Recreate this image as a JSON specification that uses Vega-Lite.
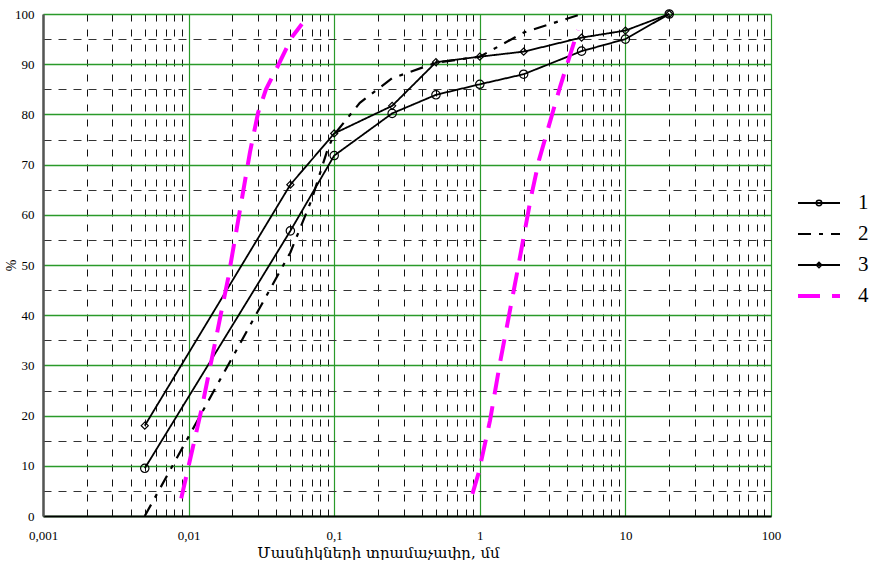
{
  "$schema": "https://vega.github.io/schema/vega-lite/v6.json",
  "padding": {"left": 4, "top": 7, "right": 0, "bottom": 0},
  "bounds": "flush",
  "spacing": 27,
  "config": {
    "view": {"stroke": null},
    "font": "Liberation Serif",
    "axis": {"labelFont": "Liberation Serif", "titleFont": "Liberation Serif", "labelColor": "#000", "titleColor": "#000", "titleFontWeight": "normal"}
  },
  "datasets": {
    "curves": [
      {"series": "1", "grp": "1", "d": 0.005, "p": 9.5},
      {"series": "1", "grp": "1", "d": 0.05, "p": 56.8},
      {"series": "1", "grp": "1", "d": 0.1, "p": 71.8},
      {"series": "1", "grp": "1", "d": 0.25, "p": 80.2},
      {"series": "1", "grp": "1", "d": 0.5, "p": 83.9},
      {"series": "1", "grp": "1", "d": 1, "p": 86},
      {"series": "1", "grp": "1", "d": 2, "p": 88},
      {"series": "1", "grp": "1", "d": 5, "p": 92.6},
      {"series": "1", "grp": "1", "d": 10, "p": 95},
      {"series": "1", "grp": "1", "d": 20, "p": 100},
      {"series": "2", "grp": "2", "d": 0.005, "p": 0},
      {"series": "2", "grp": "2", "d": 0.05, "p": 52.5},
      {"series": "2", "grp": "2", "d": 0.07, "p": 63},
      {"series": "2", "grp": "2", "d": 0.09, "p": 73},
      {"series": "2", "grp": "2", "d": 0.1, "p": 76},
      {"series": "2", "grp": "2", "d": 0.15, "p": 82.3},
      {"series": "2", "grp": "2", "d": 0.25, "p": 87.2},
      {"series": "2", "grp": "2", "d": 0.5, "p": 90.3},
      {"series": "2", "grp": "2", "d": 1, "p": 91.5},
      {"series": "2", "grp": "2", "d": 2, "p": 96.3},
      {"series": "2", "grp": "2", "d": 5, "p": 100},
      {"series": "3", "grp": "3", "d": 0.005, "p": 18},
      {"series": "3", "grp": "3", "d": 0.05, "p": 66},
      {"series": "3", "grp": "3", "d": 0.1, "p": 76.2},
      {"series": "3", "grp": "3", "d": 0.25, "p": 81.7},
      {"series": "3", "grp": "3", "d": 0.5, "p": 90.4},
      {"series": "3", "grp": "3", "d": 1, "p": 91.5},
      {"series": "3", "grp": "3", "d": 2, "p": 92.5},
      {"series": "3", "grp": "3", "d": 5, "p": 95.3},
      {"series": "3", "grp": "3", "d": 10, "p": 96.7},
      {"series": "3", "grp": "3", "d": 20, "p": 100},
      {"series": "4", "grp": "4a", "d": 0.0089, "p": 3.5},
      {"series": "4", "grp": "4a", "d": 0.0123, "p": 21.4},
      {"series": "4", "grp": "4a", "d": 0.0187, "p": 47.4},
      {"series": "4", "grp": "4a", "d": 0.0264, "p": 72.5},
      {"series": "4", "grp": "4a", "d": 0.03, "p": 80.3},
      {"series": "4", "grp": "4a", "d": 0.034, "p": 85},
      {"series": "4", "grp": "4a", "d": 0.04, "p": 89},
      {"series": "4", "grp": "4a", "d": 0.0513, "p": 95.4},
      {"series": "4", "grp": "4a", "d": 0.06, "p": 98},
      {"series": "4", "grp": "4b", "d": 0.89, "p": 4.4},
      {"series": "4", "grp": "4b", "d": 0.98, "p": 8.5},
      {"series": "4", "grp": "4b", "d": 1.175, "p": 19},
      {"series": "4", "grp": "4b", "d": 1.376, "p": 30.5},
      {"series": "4", "grp": "4b", "d": 1.81, "p": 48.7},
      {"series": "4", "grp": "4b", "d": 2.25, "p": 63.6},
      {"series": "4", "grp": "4b", "d": 2.55, "p": 70.9},
      {"series": "4", "grp": "4b", "d": 3.56, "p": 85.5},
      {"series": "4", "grp": "4b", "d": 4.72, "p": 96.8}
    ],
    "legend": [{"series": "1"}, {"series": "2"}, {"series": "3"}, {"series": "4"}]
  },
  "hconcat": [
    {
      "width": 728,
      "height": 502,
      "data": {"name": "curves"},
      "encoding": {
        "x": {
          "field": "d", "type": "quantitative",
          "scale": {"type": "log", "domain": [0.001, 100], "nice": false},
          "axis": {
            "values": [0.001,0.002,0.003,0.004,0.005,0.006,0.007,0.008,0.009,0.01,0.02,0.03,0.04,0.05,0.06,0.07,0.08,0.09,0.1,0.2,0.3,0.4,0.5,0.6,0.7,0.8,0.9,1,2,3,4,5,6,7,8,9,10,20,30,40,50,60,70,80,90,100],
            "title": "Մասնիկների տրամաչափը, մմ",
            "titleFont": "DejaVu Serif",
            "titleFontSize": 15,
            "titlePadding": 3,
            "titleX": 335,
            "labelExpr": "indexof([0.001,0.01,0.1,1,10,100], datum.value) >= 0 ? replace(toString(datum.value), '.', ',') : ''",
            "labelFontSize": 13,
            "labelPadding": 13,
            "labelOverlap": false,
            "labelFlush": false,
            "labelBound": false,
            "ticks": false,
            "domainColor": "#000",
            "domainWidth": 2,
            "grid": true,
            "gridColor": {"condition": {"test": "indexof([0.001,0.01,0.1,1,10,100], datum.value) >= 0", "value": "#2a9a2a"}, "value": "#111"},
            "gridDash": {"condition": {"test": "indexof([0.001,0.01,0.1,1,10,100], datum.value) >= 0", "value": []}, "value": [7, 8]},
            "gridWidth": {"condition": {"test": "indexof([0.001,0.01,0.1,1,10,100], datum.value) >= 0", "value": 1.2}, "value": 1}
          }
        },
        "y": {
          "field": "p", "type": "quantitative",
          "scale": {"domain": [0, 100], "nice": false},
          "axis": {
            "values": [0,5,10,15,20,25,30,35,40,45,50,55,60,65,70,75,80,85,90,95,100],
            "title": "%",
            "titleFontSize": 14,
            "titlePadding": -4,
            "labelExpr": "datum.value % 10 == 0 ? datum.label : ''",
            "labelFontSize": 13,
            "labelPadding": 9,
            "labelOverlap": false,
            "ticks": false,
            "domainColor": "#555",
            "domainWidth": 2.5,
            "grid": true,
            "gridColor": {"condition": {"test": "datum.value % 10 == 0", "value": "#2a9a2a"}, "value": "#333"},
            "gridDash": {"condition": {"test": "datum.value % 10 == 0", "value": []}, "value": [8, 7]},
            "gridWidth": {"condition": {"test": "datum.value % 10 == 0", "value": 1.5}, "value": 1}
          }
        }
      },
      "layer": [
        {
          "mark": {"type": "line"},
          "encoding": {
            "detail": {"field": "grp", "type": "nominal"},
            "color": {"field": "series", "type": "nominal", "scale": {"domain": ["1","2","3","4"], "range": ["#000000","#000000","#000000","#ff00ff"]}, "legend": null},
            "strokeDash": {"field": "series", "type": "nominal", "scale": {"domain": ["1","2","3","4"], "range": [[1,0],[13,8,4,8],[1,0],[22,12]]}, "legend": null},
            "strokeWidth": {"field": "series", "type": "nominal", "scale": {"type": "ordinal", "domain": ["1","2","3","4"], "range": [1.8,2.2,1.8,4]}, "legend": null}
          }
        },
        {
          "transform": [{"filter": "datum.series == '1' || datum.series == '3'"}],
          "mark": {"type": "point", "filled": false, "stroke": "#000", "strokeWidth": 1.2, "opacity": 1},
          "encoding": {
            "shape": {"field": "series", "type": "nominal", "scale": {"domain": ["1","3"], "range": ["circle","diamond"]}, "legend": null},
            "size": {"field": "series", "type": "nominal", "scale": {"type": "ordinal", "domain": ["1","3"], "range": [70,50]}, "legend": null}
          }
        }
      ]
    },
    {
      "width": 42,
      "height": 502,
      "data": {"name": "legend"},
      "encoding": {
        "y": {"field": "series", "type": "nominal", "scale": {"type": "point", "padding": 0, "range": [189, 282]}, "axis": null}
      },
      "layer": [
        {
          "mark": {"type": "rule"},
          "encoding": {
            "x": {"datum": 0, "type": "quantitative", "scale": {"domain": [0, 1]}, "axis": null},
            "x2": {"datum": 1},
            "color": {"field": "series", "type": "nominal", "scale": {"domain": ["1","2","3","4"], "range": ["#000000","#000000","#000000","#ff00ff"]}, "legend": null},
            "strokeDash": {"field": "series", "type": "nominal", "scale": {"domain": ["1","2","3","4"], "range": [[1,0],[11,9,4,9],[1,0],[22,12]]}, "legend": null},
            "strokeWidth": {"field": "series", "type": "nominal", "scale": {"type": "ordinal", "domain": ["1","2","3","4"], "range": [1.8,2.2,1.8,4]}, "legend": null}
          }
        },
        {
          "transform": [{"filter": "datum.series == '1' || datum.series == '3'"}],
          "mark": {"type": "point", "filled": false, "stroke": "#000", "strokeWidth": 1.5, "opacity": 1},
          "encoding": {
            "x": {"datum": 0.5, "type": "quantitative"},
            "shape": {"field": "series", "type": "nominal", "scale": {"domain": ["1","3"], "range": ["circle","diamond"]}, "legend": null},
            "size": {"value": 30}
          }
        },
        {
          "mark": {"type": "text", "align": "left", "baseline": "middle", "dx": 18, "fontSize": 21, "font": "Liberation Serif", "color": "#000"},
          "encoding": {
            "x": {"datum": 1, "type": "quantitative"},
            "text": {"field": "series", "type": "nominal"}
          }
        }
      ]
    }
  ]
}
